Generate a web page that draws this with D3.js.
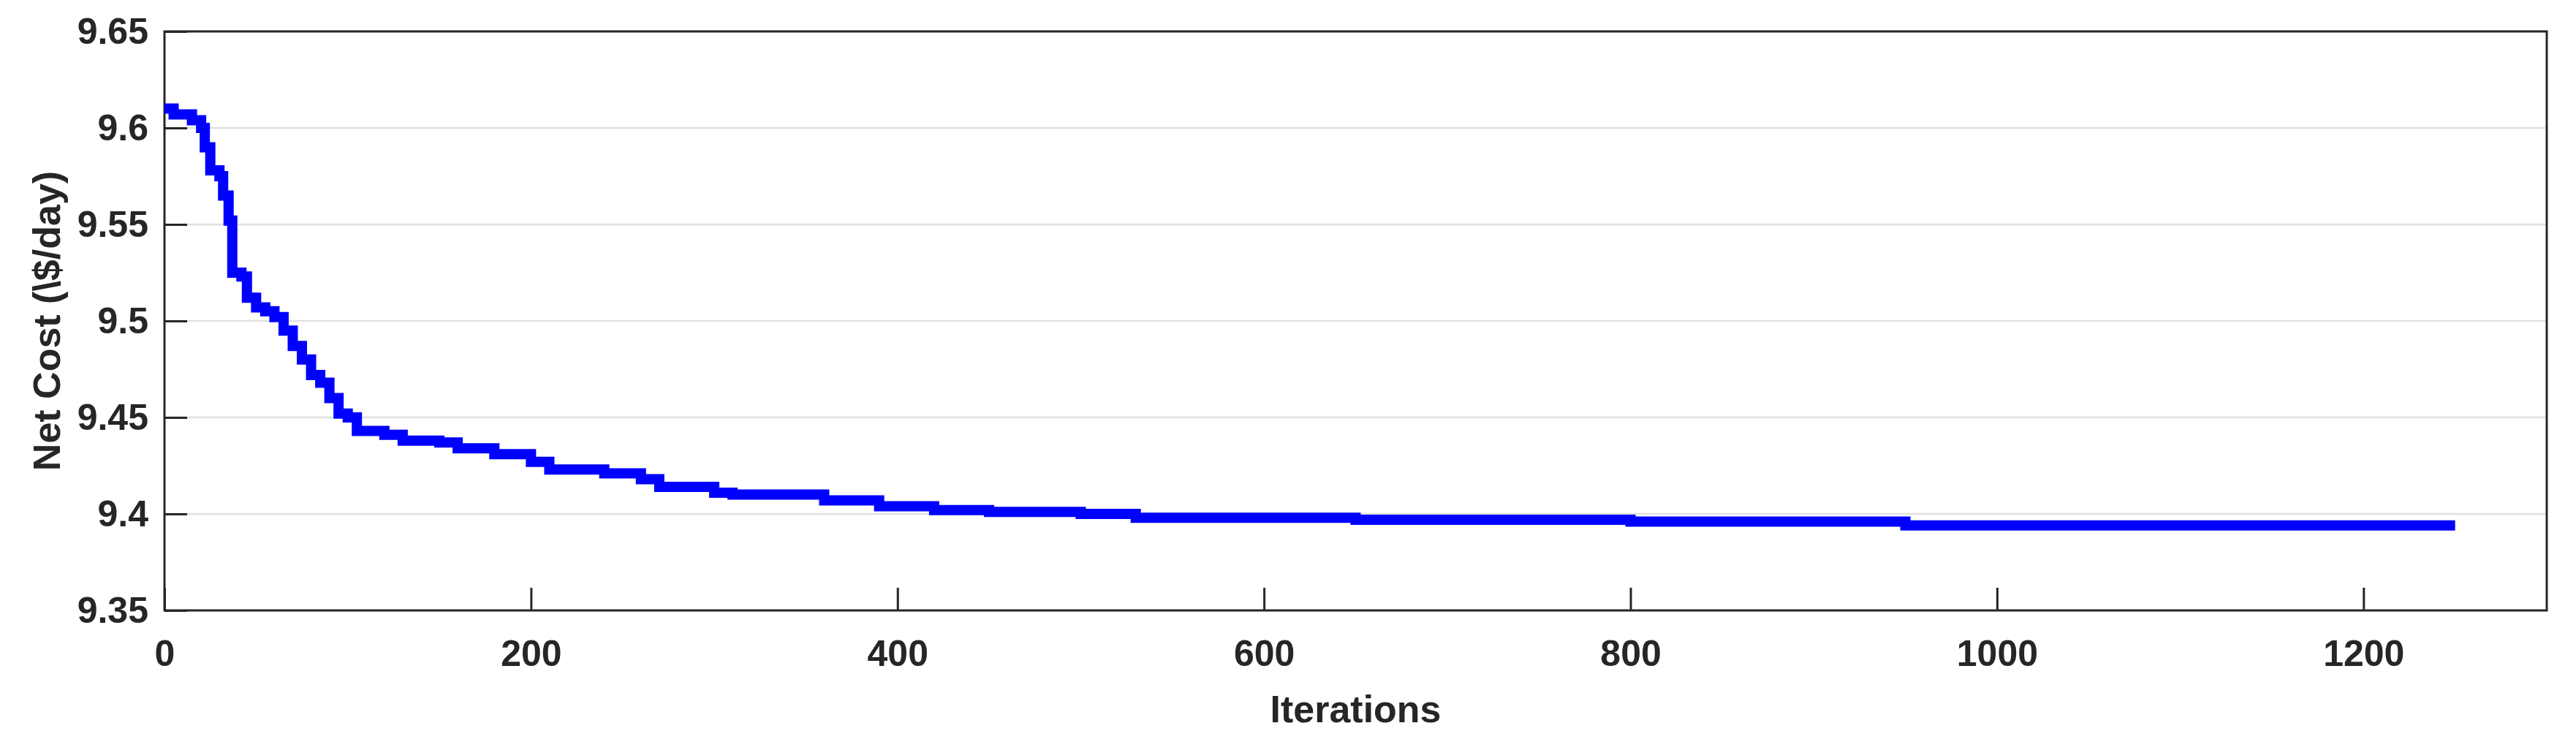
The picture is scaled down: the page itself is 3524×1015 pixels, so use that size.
<!DOCTYPE html><html><head><meta charset="utf-8"><script src="https://cdn.jsdelivr.net/npm/d3@7"></script>
<style>body{margin:0;background:#fff}</style></head><body><svg id="c" width="3524" height="1015"></svg>
<script>
const iterations=[0,5,15,20,22,25,30,32,35,37,42,45,50,55,60,65,70,75,80,85,90,95,100,105,120,130,150,160,180,200,210,240,260,270,300,310,360,390,420,450,500,530,650,800,950,1250];
const cost=[9.61,9.607,9.604,9.6,9.59,9.578,9.575,9.565,9.552,9.525,9.523,9.512,9.507,9.505,9.502,9.495,9.487,9.48,9.472,9.468,9.46,9.452,9.45,9.443,9.441,9.438,9.437,9.434,9.431,9.427,9.423,9.421,9.418,9.414,9.411,9.41,9.407,9.404,9.402,9.401,9.4,9.398,9.397,9.396,9.394,9.394];
const xTicks=[0,200,400,600,800,1000,1200];
const yTicks=[9.35,9.4,9.45,9.5,9.55,9.6,9.65];
const svg=d3.select("#c");
const L=225,R=3484,T=43,B=835;
const x=d3.scaleLinear().domain([0,1300]).range([L,R]);
const y=d3.scaleLinear().domain([9.35,9.65]).range([B,T]);
const font="Liberation Sans, Arial, sans-serif";
svg.append("g").selectAll("line").data(yTicks).join("line").attr("x1",L).attr("x2",R).attr("y1",d=>y(d)).attr("y2",d=>y(d)).attr("stroke","#e0e0e0").attr("stroke-width",2.5);
const ax=svg.append("g").attr("transform",`translate(0,${B})`).call(d3.axisBottom(x).tickValues(xTicks).tickFormat(d3.format("d")).tickSizeInner(-31).tickSizeOuter(0).tickPadding(40));
const ay=svg.append("g").attr("transform",`translate(${L},0)`).call(d3.axisLeft(y).tickValues(yTicks).tickFormat(d=>String(+d.toFixed(2))).tickSizeInner(-31).tickSizeOuter(0).tickPadding(22));
[ax,ay].forEach(a=>{a.selectAll("text").attr("font-family",font).attr("font-weight","bold").attr("font-size",50).attr("fill","#262626");a.selectAll("line,path").attr("stroke","#262626").attr("stroke-width",3);a.select(".domain").remove();});
svg.append("rect").attr("x",L).attr("y",T).attr("width",R-L).attr("height",B-T).attr("fill","none").attr("stroke","#262626").attr("stroke-width",3);
svg.append("path").datum(iterations.map((d,i)=>[d,cost[i]])).attr("d",d3.line().x(d=>x(d[0])).y(d=>y(d[1])).curve(d3.curveStepAfter)).attr("fill","none").attr("stroke","#0000ff").attr("stroke-width",14);
svg.append("text").attr("x",(L+R)/2).attr("y",988).attr("text-anchor","middle").attr("font-family",font).attr("font-weight","bold").attr("font-size",52).attr("fill","#262626").text("Iterations");
svg.append("text").attr("transform",`translate(82,${(T+B)/2}) rotate(-90)`).attr("text-anchor","middle").attr("font-family",font).attr("font-weight","bold").attr("font-size",52).attr("fill","#262626").text("Net Cost (\\$/day)");
</script></body></html>
